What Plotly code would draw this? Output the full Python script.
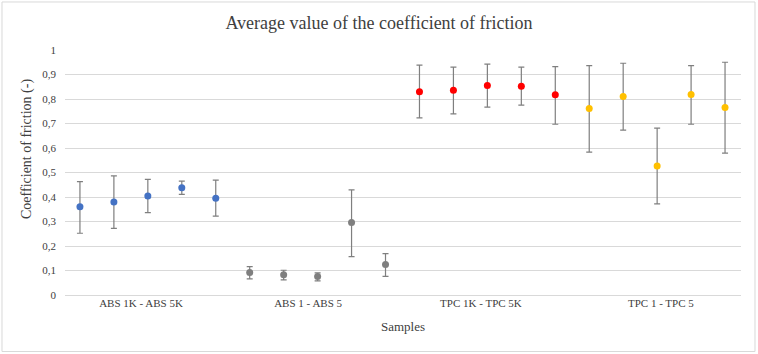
import plotly.graph_objects as go

# Data
groups = ["ABS 1K - ABS 5K", "ABS 1 - ABS 5", "TPC 1K - TPC 5K", "TPC 1 - TPC 5"]
colors = ["#4472C4", "#7F7F7F", "#FF0000", "#FFC000"]

abs_k_mean = [0.360, 0.380, 0.404, 0.438, 0.395]
abs_k_top = [0.463, 0.486, 0.472, 0.465, 0.469]
abs_k_bot = [0.252, 0.272, 0.336, 0.411, 0.322]

abs_mean = [0.092, 0.083, 0.076, 0.296, 0.125]
abs_top = [0.116, 0.101, 0.090, 0.429, 0.169]
abs_bot = [0.066, 0.062, 0.058, 0.157, 0.076]

tpc_k_mean = [0.830, 0.836, 0.855, 0.852, 0.817]
tpc_k_top = [0.938, 0.930, 0.942, 0.930, 0.932]
tpc_k_bot = [0.723, 0.739, 0.767, 0.775, 0.697]

tpc_mean = [0.761, 0.810, 0.527, 0.818, 0.765]
tpc_top = [0.936, 0.946, 0.681, 0.936, 0.950]
tpc_bot = [0.583, 0.673, 0.372, 0.697, 0.579]

series = [
    (abs_k_mean, abs_k_top, abs_k_bot),
    (abs_mean, abs_top, abs_bot),
    (tpc_k_mean, tpc_k_top, tpc_k_bot),
    (tpc_mean, tpc_top, tpc_bot),
]

y_ticks = [0, 0.1, 0.2, 0.3, 0.4, 0.5, 0.6, 0.7, 0.8, 0.9, 1]
y_ticktext = ["0", "0,1", "0,2", "0,3", "0,4", "0,5", "0,6", "0,7", "0,8", "0,9", "1"]
group_label_pos = [2.8, 7.72, 12.81, 18.11]

FONT = "Liberation Serif"
TXT = "#404040"

fig = go.Figure()
for gi, (mean, top, bot) in enumerate(series):
    xs = [gi * 5 + i + 1 for i in range(len(mean))]
    plus = [t - m for t, m in zip(top, mean)]
    minus = [m - b for m, b in zip(mean, bot)]
    fig.add_trace(go.Scatter(
        x=xs, y=mean, mode="markers", name=groups[gi],
        marker=dict(color=colors[gi], size=7),
        error_y=dict(type="data", symmetric=False, array=plus, arrayminus=minus,
                     color="#7F7F7F", thickness=1.2, width=3),
        showlegend=False,
    ))

fig.update_layout(
    width=758, height=354,
    margin=dict(l=65, r=17, t=50, b=59),
    paper_bgcolor="white", plot_bgcolor="white",
    font=dict(family=FONT, color=TXT),
    title=dict(text="Average value of the coefficient of friction",
               x=0.5, xanchor="center", xref="container", y=1 - 23 / 354, yanchor="middle",
               font=dict(size=18, family=FONT, color=TXT)),
)
fig.update_xaxes(
    range=[0.56, 20.47], showgrid=False, zeroline=False,
    tickmode="array", tickvals=group_label_pos, ticktext=groups,
    tickfont=dict(size=11, family=FONT, color=TXT),
    ticks="", showline=False,
    title=dict(text="Samples", font=dict(size=13, family=FONT, color=TXT), standoff=13),
)
fig.update_yaxes(
    range=[0, 1], showgrid=True, gridcolor="#D9D9D9", gridwidth=1,
    zeroline=True, zerolinecolor="#D9D9D9", zerolinewidth=1,
    tickmode="array", tickvals=y_ticks, ticktext=y_ticktext,
    tickfont=dict(size=11, family=FONT, color=TXT),
    ticks="", ticklabelstandoff=8,
)
fig.add_annotation(text="Coefficient of friction (-)", textangle=-90,
                   xref="paper", yref="paper", x=-0.0562, y=0.596,
                   xanchor="center", yanchor="middle", showarrow=False,
                   font=dict(size=14, family=FONT, color=TXT))
fig.add_shape(type="rect", xref="paper", yref="paper",
              x0=-0.0932, x1=1.0207, y0=-0.2306, y1=1.196,
              line=dict(color="#D9D9D9", width=1), fillcolor="rgba(0,0,0,0)", layer="below")

fig.write_html("out.html")
